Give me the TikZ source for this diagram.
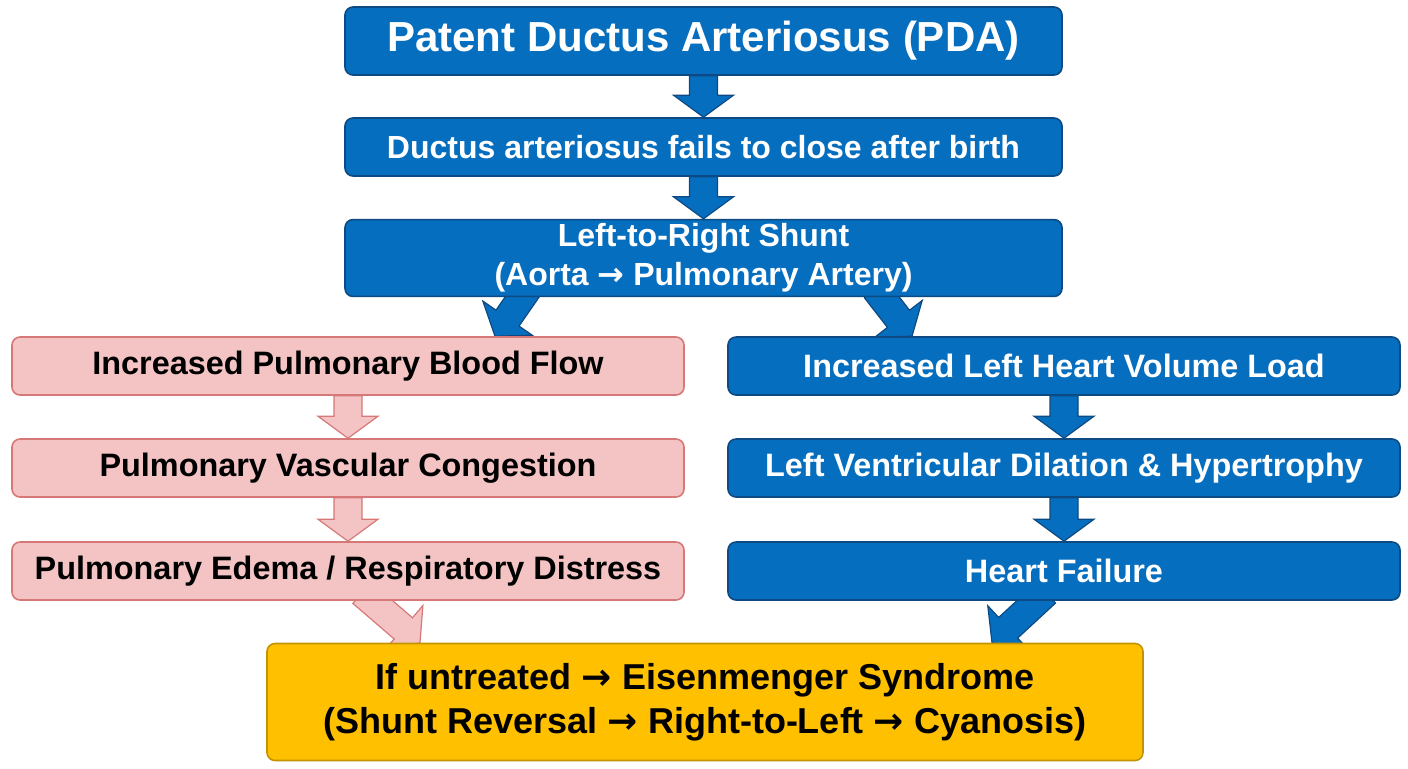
\documentclass[tikz,border=0pt]{standalone}
\usepackage{fontspec}
\setmainfont{Liberation Sans}
\newfontfamily\arrowfont{DejaVu Sans}
\newcommand{\ra}{{\arrowfont\bfseries →}}
\usetikzlibrary{calc,backgrounds}
\definecolor{pdablue}{RGB}{6,110,190}
\definecolor{pdablueline}{RGB}{14,74,130}
\definecolor{pdapink}{RGB}{244,196,196}
\definecolor{pdapinkline}{RGB}{214,120,120}
\definecolor{pdagold}{RGB}{255,192,0}
\definecolor{pdagoldline}{RGB}{196,148,0}
% block arrow between two points
\newcommand{\flowarrow}[3][]{%
  \coordinate (fa-h) at ($(#3)!11pt!(#2)$);
  \draw[line join=miter,#1] ($(#2)!7pt!90:(#3)$) -- ($(fa-h)!7pt!90:(#3)$)
    -- ($(fa-h)!15pt!90:(#3)$) -- (#3) -- ($(fa-h)!15pt!-90:(#3)$)
    -- ($(fa-h)!7pt!-90:(#3)$) -- ($(#2)!7pt!-90:(#3)$) -- cycle;}
\begin{document}
\begin{tikzpicture}[x=0.5pt,y=-0.5pt,
	every node/.style={rounded corners=4pt,align=center,font=\bfseries,inner sep=2pt,line width=0.8pt},
	bluebox/.style={draw=pdablueline,fill=pdablue,text=white},
	pinkbox/.style={draw=pdapinkline,fill=pdapink,text=black},
	goldbox/.style={draw=pdagoldline,fill=pdagold,text=black},
	bluearrow/.style={draw=pdablueline,fill=pdablue,line width=0.6pt},
	pinkarrow/.style={draw=pdapinkline,fill=pdapink,line width=0.6pt}]
\useasboundingbox (0,0) rectangle (1408,768);
% main chain
\node[bluebox,minimum width=358.5pt,minimum height=34pt,font=\bfseries\fontsize{21}{24}\selectfont] (pda) at (703.5,41) {Patent Ductus Arteriosus (PDA)};
\node[bluebox,minimum width=358.5pt,minimum height=29pt,font=\bfseries\fontsize{16}{19}\selectfont] (duct) at (703.5,147) {Ductus arteriosus fails to close after birth};
\node[bluebox,minimum width=358.5pt,minimum height=38pt,font=\bfseries\fontsize{16}{19.5}\selectfont] (shunt) at (703.5,258) {Left-to-Right Shunt\\(Aorta \ra{} Pulmonary Artery)};
% left branch
\node[pinkbox,minimum width=336pt,minimum height=29pt,font=\bfseries\fontsize{16.2}{19}\selectfont] (pbf) at (348,366) {Increased Pulmonary Blood Flow};
\node[pinkbox,minimum width=336pt,minimum height=29pt,font=\bfseries\fontsize{16.2}{19}\selectfont] (pvc) at (348,468) {Pulmonary Vascular Congestion};
\node[pinkbox,minimum width=336pt,minimum height=29pt,font=\bfseries\fontsize{16.2}{19}\selectfont] (edema) at (348,571) {Pulmonary Edema / Respiratory Distress};
% right branch
\node[bluebox,minimum width=336pt,minimum height=29pt,font=\bfseries\fontsize{16.2}{19}\selectfont] (lhv) at (1064,366) {Increased Left Heart Volume Load};
\node[bluebox,minimum width=336pt,minimum height=29pt,font=\bfseries\fontsize{16.2}{19}\selectfont] (lvd) at (1064,468) {Left Ventricular Dilation \& Hypertrophy};
\node[bluebox,minimum width=336pt,minimum height=29pt,font=\bfseries\fontsize{16.2}{19}\selectfont] (hf) at (1064,571) {Heart Failure};
% outcome
\node[goldbox,minimum width=438pt,minimum height=58.5pt,font=\bfseries\fontsize{18}{22}\selectfont] (eis) at (705,702) {If untreated \ra{} Eisenmenger Syndrome\\(Shunt Reversal \ra{} Right-to-Left \ra{} Cyanosis)};
% arrows
\begin{pgfonlayer}{background}
\flowarrow[bluearrow]{pda.south}{duct.north}
\flowarrow[bluearrow]{duct.south}{shunt.north}
\flowarrow[bluearrow]{$(shunt.south)+(-176,-8)$}{$(pbf.north)+(147,0)$}
\flowarrow[bluearrow]{$(shunt.south)+(172,-8)$}{$(lhv.north)+(-152,0)$}
\flowarrow[pinkarrow]{pbf.south}{pvc.north}
\flowarrow[pinkarrow]{pvc.south}{edema.north}
\flowarrow[bluearrow]{lhv.south}{lvd.north}
\flowarrow[bluearrow]{lvd.south}{hf.north}
\flowarrow[pinkarrow]{$(edema.south)+(14,-8)$}{$(eis.north)+(-285,0)$}
\flowarrow[bluearrow]{$(hf.south)+(-18,-8)$}{$(eis.north)+(287,0)$}
\end{pgfonlayer}
\end{tikzpicture}
\end{document}
